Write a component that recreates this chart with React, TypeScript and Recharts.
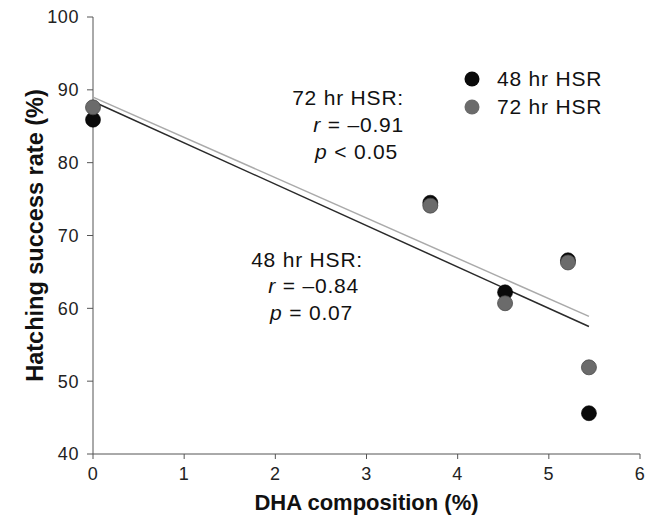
import React from 'react';
import { ScatterChart, Scatter, XAxis, YAxis, Legend, Customized } from 'recharts';

const dhaX = [0, 3.7, 4.52, 5.21, 5.44];
const hsr48 = [85.9, 74.5, 62.2, 66.6, 45.6];
const hsr72 = [87.6, 74.1, 60.7, 66.3, 51.9];
const trendX = [0, 5.44];
const trend48Y = [88.4, 57.5];
const trend72Y = [89.0, 58.9];
const xTicks = [0, 1, 2, 3, 4, 5, 6];
const yTicks = [40, 50, 60, 70, 80, 90, 100];
const seriesNames = ['48 hr HSR', '72 hr HSR'];
const seriesColors = ['#0a0a0a', '#6b6b6b'];

const data48 = dhaX.map((x, i) => ({ x, y: hsr48[i] }));
const data72 = dhaX.map((x, i) => ({ x, y: hsr72[i] }));
const line48 = trendX.map((x, i) => ({ x, y: trend48Y[i] }));
const line72 = trendX.map((x, i) => ({ x, y: trend72Y[i] }));

const FONT = '"Liberation Sans", Arial, Helvetica, sans-serif';

const Dot48 = (p: any) => (
  <circle cx={p.cx} cy={p.cy} r={7.5} fill={seriesColors[0]} stroke="#000" strokeWidth={0.6} />
);
const Dot72 = (p: any) => (
  <circle cx={p.cx} cy={p.cy} r={7.5} fill={seriesColors[1]} stroke="#4a4a4a" strokeWidth={0.8} />
);
const NoShape = () => null;

const Annotations = () => (
  <g fontFamily={FONT} fontSize={21} fill="#111" style={{ letterSpacing: '0.8px' }}>
    <text x={404} y={105} textAnchor="end">72 hr HSR:</text>
    <text x={404} y={132} textAnchor="end">
      <tspan fontStyle="italic">r</tspan> = –0.91
    </text>
    <text x={398} y={159} textAnchor="end">
      <tspan fontStyle="italic">p</tspan> &lt; 0.05
    </text>
    <text x={363} y={267} textAnchor="end">48 hr HSR:</text>
    <text x={359} y={293} textAnchor="end">
      <tspan fontStyle="italic">r</tspan> = –0.84
    </text>
    <text x={353} y={320} textAnchor="end">
      <tspan fontStyle="italic">p</tspan> = 0.07
    </text>
  </g>
);

const LegendContent = () => (
  <div style={{ fontFamily: FONT, fontSize: 21, letterSpacing: '0.8px', color: '#111' }}>
    {seriesNames.map((n, i) => (
      <div key={n} style={{ display: 'flex', alignItems: 'center', height: 28 }}>
        <svg width={16} height={16} style={{ marginRight: 17 }}>
          <circle cx={8} cy={8} r={7.5} fill={seriesColors[i]} />
        </svg>
        <span>{n}</span>
      </div>
    ))}
  </div>
);

export default function App() {
  return (
    <div style={{ position: 'absolute', left: 0, top: 0, background: '#fff' }}>
      <ScatterChart width={655} height={520} margin={{ top: 17, right: 15, bottom: 0, left: 0 }}>
        <XAxis
          type="number"
          dataKey="x"
          domain={[0, 6]}
          ticks={xTicks}
          interval={0}
          height={66}
          tickSize={5}
          tickMargin={8}
          stroke="#555"
          tick={{ fill: '#222', fontSize: 18, fontFamily: FONT, style: { letterSpacing: '0.6px' } }}
          label={{
            value: 'DHA composition (%)',
            position: 'insideBottom',
            offset: 10,
            style: { fontFamily: FONT, fontSize: 22, fontWeight: 'bold', fill: '#111' },
          }}
        />
        <YAxis
          type="number"
          dataKey="y"
          domain={[40, 100]}
          ticks={yTicks}
          interval={0}
          width={93}
          tickSize={6}
          tickMargin={8}
          stroke="#555"
          tick={{ fill: '#222', fontSize: 18, fontFamily: FONT, style: { letterSpacing: '0.6px' } }}
          label={{
            value: 'Hatching success rate (%)',
            angle: -90,
            position: 'insideLeft',
            offset: 35,
            style: { textAnchor: 'middle', fontFamily: FONT, fontSize: 23.5, fontWeight: 'bold', fill: '#111' },
          }}
        />
        <Legend
          layout="horizontal"
          verticalAlign="middle"
          align="center"
          wrapperStyle={{ position: 'absolute', left: 464, top: 65, width: 185 }}
          content={<LegendContent />}
        />
        <Scatter
          name="48 hr trend"
          data={line48}
          line={{ stroke: '#2a2a2a', strokeWidth: 1.5 }}
          shape={NoShape}
          legendType="none"
          isAnimationActive={false}
        />
        <Scatter
          name="72 hr trend"
          data={line72}
          line={{ stroke: '#aaaaaa', strokeWidth: 1.5 }}
          shape={NoShape}
          legendType="none"
          isAnimationActive={false}
        />
        <Scatter name={seriesNames[0]} data={data48} fill={seriesColors[0]} shape={Dot48} isAnimationActive={false} />
        <Scatter name={seriesNames[1]} data={data72} fill={seriesColors[1]} shape={Dot72} isAnimationActive={false} />
        <Customized component={<Annotations />} />
      </ScatterChart>
    </div>
  );
}
